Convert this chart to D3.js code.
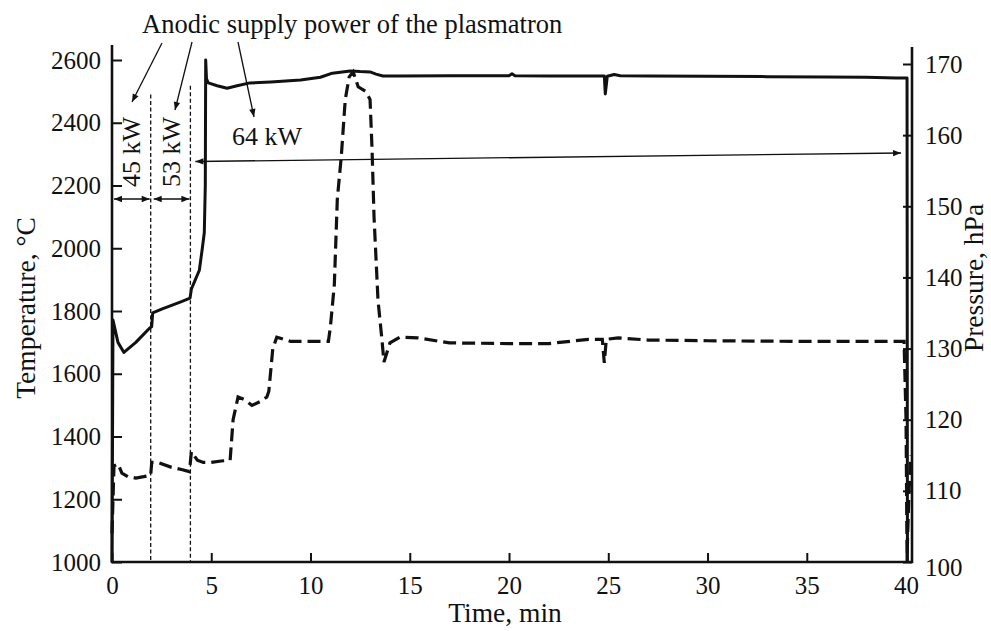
<!DOCTYPE html>
<html>
<head>
<meta charset="utf-8">
<script src="https://cdn.jsdelivr.net/npm/d3@7/dist/d3.min.js"></script>
<style>
  body { margin: 0; background: #fff; }
  text { font-family: "Liberation Serif", "Times New Roman", serif; fill: #111; }
</style>
</head>
<body>
<div id="screen"></div>
<script>
// temperature, deg C (solid line, left axis)
var tempTime  = [0, 0.05, 0.3, 0.6, 1.2, 1.9, 2.0, 2.05, 2.5, 3.0, 3.5, 3.93, 4.0, 4.2, 4.4, 4.55, 4.65, 4.7, 4.72, 4.76, 4.85, 5.3, 5.8, 6.3, 6.95, 8.0, 9.5, 10.5, 11.1, 11.6, 12.0, 12.5, 13.0, 13.3, 13.65, 14.5, 17, 20.0, 20.15, 20.3, 22, 24.8, 24.85, 24.95, 25.3, 25.6, 27, 30, 33, 36, 38, 39.5, 40.05, 40.07];
var tempValue = [1000, 1771, 1700, 1668, 1700, 1746, 1750, 1794, 1806, 1818, 1830, 1841, 1870, 1900, 1930, 2000, 2050, 2200, 2600, 2540, 2527, 2518, 2510, 2518, 2527, 2530, 2536, 2545, 2558, 2562, 2565, 2563, 2562, 2555, 2549, 2549, 2550, 2550, 2556, 2550, 2549, 2549, 2492, 2548, 2554, 2550, 2549, 2548, 2547, 2546, 2545, 2543, 2543, 1000];

// pressure, hPa (dashed line, right axis)
var presTime  = [0, 0.1, 0.3, 0.5, 0.8, 1.2, 1.6, 1.95, 2.0, 2.3, 3.0, 3.5, 3.9, 4.0, 4.3, 4.6, 5.0, 5.5, 5.95, 6.1, 6.35, 6.7, 7.05, 7.5, 7.8, 7.9, 8.1, 8.3, 9, 10, 10.9, 11.0, 11.2, 11.35, 11.55, 11.75, 11.95, 12.15, 12.4, 12.8, 13.0, 13.1, 13.2, 13.4, 13.6, 13.7, 14.0, 14.5, 15.4, 17, 20, 22, 24, 24.7, 24.8, 24.9, 25.5, 27, 30, 35, 39.9, 40.0, 40.05, 40.15, 40.25];
var presValue = [104, 113.5, 113.8, 112.5, 112, 111.8, 112, 112.2, 114, 114, 113.3, 113, 112.7, 115.5, 114.3, 114, 114, 114.2, 114.3, 120, 123.2, 122.8, 122, 122.6, 123.2, 124, 130, 131.6, 131, 131, 131, 133, 139, 151, 157, 165, 168.2, 168.9, 166.8, 166.1, 165, 158, 148.5, 136.8, 131.2, 128.1, 130.8, 131.6, 131.5, 130.8, 130.7, 130.7, 131.3, 131.3, 128, 131.3, 131.5, 131.2, 131.1, 131, 131, 120, 101, 110, 115];

var timeTicks = [0, 5, 10, 15, 20, 25, 30, 35, 40];
var tempTicks = [1000, 1200, 1400, 1600, 1800, 2000, 2200, 2400, 2600];
var presTicks = [100, 110, 120, 130, 140, 150, 160, 170];

// power stages (min) and labels
var stageTimes  = [0, 2, 4, 40.05];
var stageLabels = ['45 kW', '53 kW', '64 kW'];

var W = 991, H = 631;

var svg = d3.select('#screen')
            .append('svg')
            .attr('width', W)
            .attr('height', H);

var x  = d3.scaleLinear().domain([0, 40.3]).range([112, 912]),
    yT = d3.scaleLinear().domain([1000, 2600]).range([562, 60]),
    yP = d3.scaleLinear().domain([100, 170]).range([562, 64]);

svg.append('defs').append('marker')
   .attr('id', 'head')
   .attr('viewBox', '0 0 10 10')
   .attr('refX', 10).attr('refY', 5)
   .attr('markerWidth', 14).attr('markerHeight', 8)
   .attr('markerUnits', 'userSpaceOnUse')
   .attr('orient', 'auto-start-reverse')
   .append('path')
   .attr('d', 'M0,1 L10,5 L0,9 Z')
   .attr('fill', '#111');

// vertical dashed separators at stage changes
svg.selectAll('.stage')
   .data(stageTimes.slice(1, 3))
   .enter()
   .append('line')
   .attr('class', 'stage')
   .attr('x1', function(d) { return x(d) - 1; })
   .attr('x2', function(d) { return x(d) - 1; })
   .attr('y1', function(d, i) { return i === 0 ? yT(2490) : yT(2518); })
   .attr('y2', yT(1000))
   .attr('stroke', '#111')
   .attr('stroke-width', 1.3)
   .attr('stroke-dasharray', '4,2.5');

// curves
var tempLine = d3.line()
                 .x(function(d) { return x(d[0]); })
                 .y(function(d) { return yT(d[1]); });
var presLine = d3.line()
                 .x(function(d) { return x(d[0]); })
                 .y(function(d) { return yP(d[1]); });

svg.append('path')
   .datum(d3.zip(presTime, presValue))
   .attr('d', presLine)
   .attr('fill', 'none')
   .attr('stroke', '#111')
   .attr('stroke-width', 3.2)
   .attr('stroke-dasharray', '13,6');

svg.append('path')
   .datum(d3.zip(tempTime, tempValue))
   .attr('d', tempLine)
   .attr('fill', 'none')
   .attr('stroke', '#111')
   .attr('stroke-width', 3)
   .attr('stroke-linejoin', 'round');

// axes
var fmt = d3.format('d');
var axL = svg.append('g')
             .attr('transform', 'translate(' + x(0) + ',0)')
             .call(d3.axisLeft(yT).tickValues(tempTicks).tickFormat(fmt).tickSize(-10).tickPadding(11).tickSizeOuter(0));
var axR = svg.append('g')
             .attr('transform', 'translate(' + x(40.3) + ',0)')
             .call(d3.axisRight(yP).tickValues(presTicks).tickFormat(fmt).tickSize(-9).tickPadding(13).tickSizeOuter(0));
var axB = svg.append('g')
             .attr('transform', 'translate(0,' + yT(1000) + ')')
             .call(d3.axisBottom(x).tickValues(timeTicks).tickFormat(fmt).tickSize(-9).tickPadding(14).tickSizeOuter(0));

[axL, axR, axB].forEach(function(a) {
  a.select('.domain').remove();
  a.selectAll('.tick line').attr('stroke', '#111').attr('stroke-width', 2);
  a.selectAll('.tick text').attr('font-size', 25).attr('font-family', '"Liberation Serif", serif').attr('fill', '#111');
});
axR.selectAll('.tick text').filter(function(d) { return d === 100; }).attr('dy', '0.55em');

// frame lines (left, right, bottom)
svg.append('path')
   .attr('d', 'M' + x(0) + ',45 V' + yT(1000) + ' H' + x(40.3) + ' V47')
   .attr('fill', 'none')
   .attr('stroke', '#111')
   .attr('stroke-width', 2.6);

// axis titles
svg.append('text')
   .attr('transform', 'translate(35,308) rotate(-90)')
   .attr('text-anchor', 'middle')
   .attr('font-size', 27.5)
   .text('Temperature, °C');
svg.append('text')
   .attr('transform', 'translate(983,278) rotate(-90)')
   .attr('text-anchor', 'middle')
   .attr('font-size', 27.5)
   .text('Pressure, hPa');
svg.append('text')
   .attr('x', 505).attr('y', 622)
   .attr('text-anchor', 'middle')
   .attr('font-size', 27.5)
   .text('Time, min');

// annotations
svg.append('text')
   .attr('x', 142).attr('y', 33)
   .attr('font-size', 26.5)
   .text('Anodic supply power of the plasmatron');

var pointers = [[162, 43, 132, 102], [192, 42, 175, 110], [238, 42, 254, 117]];
svg.selectAll('.ptr')
   .data(pointers)
   .enter()
   .append('line')
   .attr('class', 'ptr')
   .attr('x1', function(d) { return d[0]; })
   .attr('y1', function(d) { return d[1]; })
   .attr('x2', function(d) { return d[2]; })
   .attr('y2', function(d) { return d[3]; })
   .attr('stroke', '#111')
   .attr('stroke-width', 1.3)
   .attr('marker-end', 'url(#head)');

// small double arrows for 45 and 53 kW stages
[0, 1].forEach(function(i) {
  var x0 = x(stageTimes[i]) + 2, x1 = x(stageTimes[i + 1]) - 2;
  svg.append('line')
     .attr('x1', x0).attr('x2', x1)
     .attr('y1', 199).attr('y2', 199)
     .attr('stroke', '#111')
     .attr('stroke-width', 1.3)
     .attr('marker-start', 'url(#head)')
     .attr('marker-end', 'url(#head)');
  svg.append('text')
     .attr('transform', 'translate(' + ((x0 + x1) / 2 + 8) + ',152) rotate(-90)')
     .attr('text-anchor', 'middle')
     .attr('font-size', 26)
     .text(stageLabels[i]);
});

// 64 kW long arrow
svg.append('line')
   .attr('x1', x(stageTimes[2]) + 4).attr('y1', 161.5)
   .attr('x2', x(stageTimes[3]) - 6).attr('y2', 153)
   .attr('stroke', '#111')
   .attr('stroke-width', 1.3)
   .attr('marker-start', 'url(#head)')
   .attr('marker-end', 'url(#head)');
svg.append('text')
   .attr('x', 232).attr('y', 145)
   .attr('font-size', 26)
   .text(stageLabels[2]);
</script>
</body>
</html>
